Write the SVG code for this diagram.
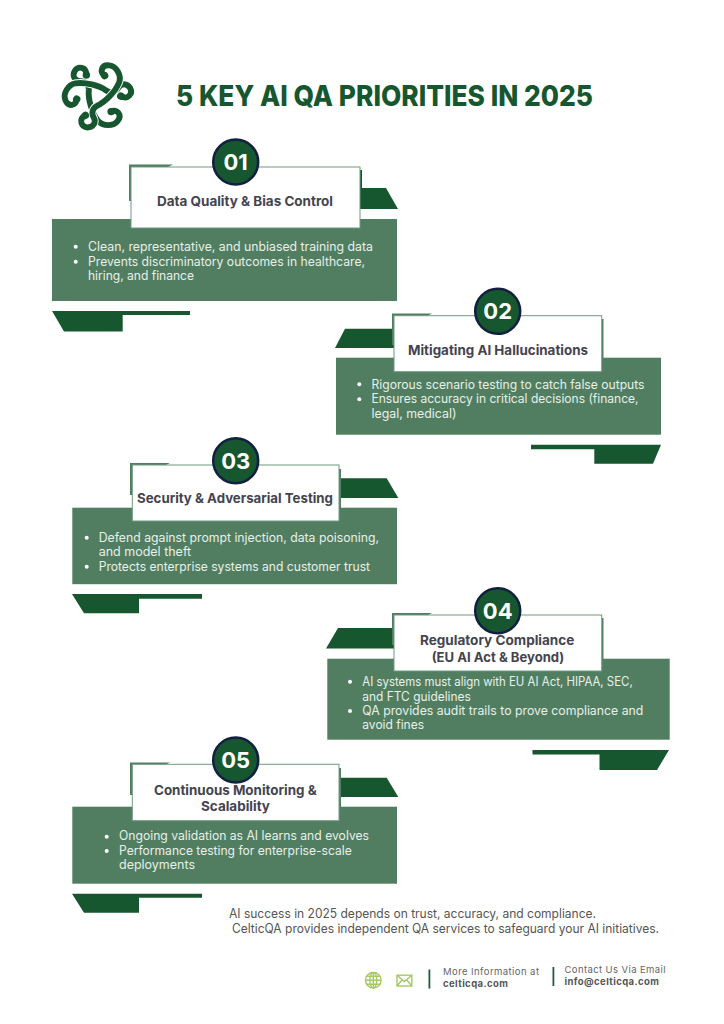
<svg xmlns="http://www.w3.org/2000/svg" xmlns:xlink="http://www.w3.org/1999/xlink" width="724" height="1024" viewBox="0 0 724 1024">
<style>
text{font-family:Inter,"Open Sans","Liberation Sans",sans-serif}
.dark{fill:#17572f}
.mid{fill:#517e61}
.box{fill:#fff;stroke:#6f9a80;stroke-width:1}
.circ{fill:#17572f;stroke:#121f40;stroke-width:2.5}
.num{fill:#fff;font-size:22px;font-weight:700;text-anchor:middle}
.ttl{fill:#44444f;font-size:13.2px;font-weight:700}
.body{fill:#e8f0ea;font-size:12.6px}
.dot{fill:#fff}
.foot{fill:#666;font-size:9.5px}
.footb{fill:#555;font-size:9.5px;font-weight:700}
.div{fill:#1d5f38}
.icon{fill:none;stroke:#a5c963;stroke-width:1.4}
.close{fill:#555;font-size:12.6px}
.k{fill:none;stroke-linecap:round;stroke-linejoin:round}
</style>
<defs>
<path id="arm" d="M187,190 C205,180 224,200 208,220 C195,238 160,238 145,220 C125,195 112,150 115,120 C116,105 105,92 88,92 C70,92 60,75 70,58 C80,42 108,45 107,72"/>
<g id="arm2"><use xlink:href="#arm" class="k" stroke="#fff" stroke-width="25"/><use xlink:href="#arm" class="k" stroke="#17572f" stroke-width="19"/><circle cx="187" cy="190" r="12" fill="#17572f"/><circle cx="107" cy="72" r="12" fill="#17572f"/></g>
</defs>
<rect width="724" height="1024" fill="#fff"/>
<g id="logo" transform="translate(97.500 95.500) scale(.31) translate(-143 -138)">
<use xlink:href="#arm2"/>
<use xlink:href="#arm2" transform="rotate(120 143 138)"/>
<use xlink:href="#arm2" transform="rotate(240 143 138)"/>
</g>
<text id="heading" x="176" y="106" font-size="29" font-weight="800" fill="#17572f" textLength="417" lengthAdjust="spacingAndGlyphs">5 KEY AI QA PRIORITIES IN 2025</text>

<g id="connectors"></g>

<g id="card1">
<path class="dark" d="M360,188H386L398,209H360Z"/>
<rect class="mid" x="52" y="219" width="345" height="82"/>
<path class="dark" d="M52,311H190V315H122.700V331.500H64Z"/>
<path class="mid" d="M129,164.500H173L168,167H133V201H129Z"/>
<path d="M360,170H362V190H360Z" class="dark"/>
<rect class="box" x="131" y="167" width="229" height="61"/>
<circle class="circ" cx="235.700" cy="162" r="22.500"/>
<text class="num" x="235.700" y="170">01</text>
<text class="ttl" x="157" y="206" textLength="176" lengthAdjust="spacingAndGlyphs">Data Quality &amp; Bias Control</text>
<circle class="dot" cx="75.700" cy="246.700" r="2"/><circle class="dot" cx="75.700" cy="261.700" r="2"/>
<text class="body" x="88" y="251" textLength="285" lengthAdjust="spacingAndGlyphs">Clean, representative, and unbiased training data</text>
<text class="body" x="88" y="265.500" textLength="277" lengthAdjust="spacingAndGlyphs">Prevents discriminatory outcomes in healthcare,</text>
<text class="body" x="88" y="280" textLength="106" lengthAdjust="spacingAndGlyphs">hiring, and finance</text>
</g>

<g id="card2">
<path class="dark" d="M335,348L345,328.700H394V348Z"/>
<rect class="mid" x="336" y="357.700" width="325" height="77"/>
<path class="dark" d="M531,444.700H661L653,463.700H594.300V449.300H531Z"/>
<path class="mid" d="M392,313.500H432L427,316H396V345H392Z"/>
<path d="M601.700,319H603.500V358H601.700Z" class="mid"/>
<rect class="box" x="394" y="315.700" width="207.700" height="56"/>
<circle class="circ" cx="497.700" cy="311.300" r="22.500"/>
<text class="num" x="497.700" y="319.300">02</text>
<text class="ttl" x="408" y="355" textLength="180" lengthAdjust="spacingAndGlyphs">Mitigating AI Hallucinations</text>
<circle class="dot" cx="359.300" cy="384.300" r="2"/><circle class="dot" cx="359.300" cy="399.300" r="2"/>
<text class="body" x="371.500" y="388.700" textLength="273" lengthAdjust="spacingAndGlyphs">Rigorous scenario testing to catch false outputs</text>
<text class="body" x="371.500" y="403.300" textLength="267" lengthAdjust="spacingAndGlyphs">Ensures accuracy in critical decisions (finance,</text>
<text class="body" x="371.500" y="417.700" textLength="85" lengthAdjust="spacingAndGlyphs">legal, medical)</text>
</g>

<g id="card3">
<path class="dark" d="M339,478.300H386.700L398.300,498H339Z"/>
<rect class="mid" x="72.300" y="507.700" width="324.700" height="76.500"/>
<path class="dark" d="M72,594H202V598.700H139V613.300H84Z"/>
<path class="mid" d="M130,463H170L165,465.500H134V495H130Z"/>
<path d="M339,469H341V508H339Z" class="mid"/>
<rect class="box" x="132.300" y="465" width="206.700" height="56"/>
<circle class="circ" cx="235.700" cy="460.700" r="22.500"/>
<text class="num" x="235.700" y="468.700">03</text>
<text class="ttl" x="137" y="503" textLength="196" lengthAdjust="spacingAndGlyphs">Security &amp; Adversarial Testing</text>
<circle class="dot" cx="86.700" cy="537.700" r="2"/><circle class="dot" cx="86.700" cy="566.700" r="2"/>
<text class="body" x="98.700" y="541.700" textLength="280.300" lengthAdjust="spacingAndGlyphs">Defend against prompt injection, data poisoning,</text>
<text class="body" x="98.700" y="556" textLength="92.500" lengthAdjust="spacingAndGlyphs">and model theft</text>
<text class="body" x="98.700" y="570.700" textLength="271.300" lengthAdjust="spacingAndGlyphs">Protects enterprise systems and customer trust</text>
</g>

<g id="card4">
<path class="dark" d="M326,648.500L338,628H394V648.500Z"/>
<rect class="mid" x="327.300" y="658.700" width="342.400" height="81"/>
<path class="dark" d="M532.500,750H669L657,770H599.500V754.500H532.500Z"/>
<path class="mid" d="M392,613H432L427,615.500H396V645H392Z"/>
<path d="M601.700,618H603.500V659H601.700Z" class="mid"/>
<rect class="box" x="394" y="615" width="207.700" height="56"/>
<circle class="circ" cx="497.700" cy="610.700" r="22.500"/>
<text class="num" x="497.700" y="618.700">04</text>
<text class="ttl" x="420" y="645" textLength="154.300" lengthAdjust="spacingAndGlyphs">Regulatory Compliance</text>
<text class="ttl" x="431.700" y="661.700" textLength="132.600" lengthAdjust="spacingAndGlyphs">(EU AI Act &amp; Beyond)</text>
<circle class="dot" cx="350" cy="681.700" r="2"/><circle class="dot" cx="350" cy="711" r="2"/>
<text class="body" x="362.300" y="686" textLength="270.400" lengthAdjust="spacingAndGlyphs">AI systems must align with EU AI Act, HIPAA, SEC,</text>
<text class="body" x="362.300" y="700.700" textLength="108.400" lengthAdjust="spacingAndGlyphs">and FTC guidelines</text>
<text class="body" x="362.300" y="715" textLength="281" lengthAdjust="spacingAndGlyphs">QA provides audit trails to prove compliance and</text>
<text class="body" x="362.300" y="729.300" textLength="61.700" lengthAdjust="spacingAndGlyphs">avoid fines</text>
</g>

<g id="card5">
<path class="dark" d="M339,777.700H386.700L398.300,797H339Z"/>
<rect class="mid" x="72.300" y="806.700" width="324.700" height="77"/>
<path class="dark" d="M72,893.700H202V897.700H139V912.700H84Z"/>
<path class="mid" d="M130,762.500H170L165,765H134V795H130Z"/>
<path d="M339,768H341V807H339Z" class="mid"/>
<rect class="box" x="132.300" y="764.300" width="206.700" height="56.400"/>
<circle class="circ" cx="235.700" cy="760" r="22.500"/>
<text class="num" x="235.700" y="768">05</text>
<text class="ttl" x="154" y="795" textLength="162.700" lengthAdjust="spacingAndGlyphs">Continuous Monitoring &amp;</text>
<text class="ttl" x="201" y="811" textLength="69" lengthAdjust="spacingAndGlyphs">Scalability</text>
<circle class="dot" cx="106.700" cy="836.700" r="2"/><circle class="dot" cx="106.700" cy="851" r="2"/>
<text class="body" x="119" y="840" textLength="250" lengthAdjust="spacingAndGlyphs">Ongoing validation as AI learns and evolves</text>
<text class="body" x="119" y="855" textLength="232.700" lengthAdjust="spacingAndGlyphs">Performance testing for enterprise-scale</text>
<text class="body" x="119" y="869.300" textLength="76" lengthAdjust="spacingAndGlyphs">deployments</text>
</g>

<g id="closing">
<text class="close" x="229" y="918" textLength="367" lengthAdjust="spacingAndGlyphs">AI success in 2025 depends on trust, accuracy, and compliance.</text>
<text class="close" x="232" y="932.500" textLength="427" lengthAdjust="spacingAndGlyphs">CelticQA provides independent QA services to safeguard your AI initiatives.</text>
</g>

<g id="footer">
<g id="globe" class="icon"><circle cx="373.300" cy="980.300" r="7.800"/><ellipse cx="373.300" cy="980.300" rx="3.500" ry="7.800"/><path d="M365.500,980.300H381M366.500,976.300H380M366.500,984.300H380M373.300,972.500V988"/></g>
<g id="mail" class="icon"><rect x="397" y="975.200" width="14.800" height="10.800"/><path d="M397,975.200L404.400,981.500L411.800,975.200M397,986L402,980M411.800,986L406.800,980"/></g>
<rect class="div" x="428.500" y="969.500" width="1.800" height="19"/>
<rect class="div" x="552.500" y="967" width="1.800" height="19"/>
<text class="foot" x="443" y="975.300" textLength="96" lengthAdjust="spacing">More Information at</text>
<text class="footb" x="443" y="987" textLength="65" lengthAdjust="spacing">celticqa.com</text>
<text class="foot" x="564.500" y="972.800" textLength="101" lengthAdjust="spacing">Contact Us Via Email</text>
<text class="footb" x="564.500" y="984.500" textLength="94.500" lengthAdjust="spacing">info@celticqa.com</text>
</g>
</svg>
